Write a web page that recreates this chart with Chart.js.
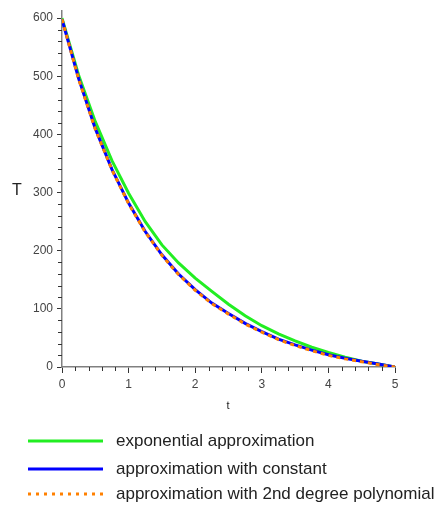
<!DOCTYPE html>
<html><head><meta charset="utf-8">
<script src="https://cdn.jsdelivr.net/npm/chart.js@4/dist/chart.umd.min.js"></script>
<style>
html,body{margin:0;padding:0;background:#fff;}
#wrap{position:relative;width:437px;height:505px;}
#c{position:absolute;left:0;top:0;}
.lg{position:absolute;left:0;font-family:"Liberation Sans",Arial,sans-serif;font-size:17px;color:#222;white-space:nowrap;}
.lg svg{position:absolute;left:28px;top:0;}
.lg span{position:absolute;left:116px;top:-1px;line-height:18px;}
</style></head>
<body><div id="wrap"><canvas id="c" width="437" height="505"></canvas>
<div id="legend"></div></div>
<script>
const tValues = [0,0.25,0.5,0.75,1,1.25,1.5,1.75,2,2.25,2.5,2.75,3,3.25,3.5,3.75,4,4.25,4.5,4.75,5];
const expApprox = [600,502,422,355,299,250,210,179,153,130,108,88,71,57,45,34,25,17,10,5,0];
const constApprox = [598,496,410,340,282,233,193,160,133,110,92,75,61,48,38,29,21,15,10,5,0];
const polyApprox = [598,495,409,339,281,232,192,159,132,109,91,74,60,47,37,28,20,14,9,4,0];
const yTicks = [0,100,200,300,400,500,600];
const xTicks = [0,1,2,3,4,5];
const seriesNames = ["exponential approximation","approximation with constant","approximation with 2nd degree polynomial"];
const seriesColors = ["#22ee22","#0000ff","#ff8000"];

const pts = arr => arr.map((v,i)=>({x:tValues[i], y:v}));

const minorTicks = {
  id:'minorTicks',
  afterDraw(chart){
    const ctx = chart.ctx, xs = chart.scales.x, ys = chart.scales.y;
    ctx.save();
    ctx.strokeStyle = '#333'; ctx.lineWidth = 1;
    for(let v=20; v<=600; v+=20){
      if(v%100===0) continue;
      const p = Math.round(ys.getPixelForValue(v))+0.5;
      ctx.beginPath(); ctx.moveTo(ys.right-4, p); ctx.lineTo(ys.right, p); ctx.stroke();
    }
    for(let k=1; k<25; k++){
      if(k%5===0) continue;
      const p = Math.round(xs.getPixelForValue(k*0.2))+0.5;
      ctx.beginPath(); ctx.moveTo(p, xs.top); ctx.lineTo(p, xs.top+4); ctx.stroke();
    }
    ctx.fillStyle = '#222';
    ctx.font = '16px "Liberation Sans", Arial, sans-serif';
    ctx.textAlign = 'center'; ctx.textBaseline = 'middle';
    ctx.fillText('T', 17, 191);
    ctx.font = '11px "Liberation Sans", Arial, sans-serif';
    ctx.fillText('t', 228, 406);
    ctx.restore();
  }
};

new Chart(document.getElementById('c'), {
  type:'line',
  data:{datasets:[
    {label:seriesNames[0], data:pts(expApprox), borderColor:seriesColors[0], borderWidth:3, pointRadius:0, tension:0, fill:false, order:2},
    {label:seriesNames[1], data:pts(constApprox), borderColor:seriesColors[1], borderWidth:3, pointRadius:0, tension:0, fill:false, order:1},
    {label:seriesNames[2], data:pts(polyApprox), borderColor:seriesColors[2], borderWidth:3, borderDash:[4,4], pointRadius:0, tension:0, fill:false, order:0}
  ]},
  options:{
    responsive:false, animation:false,
    layout:{padding:{left:0,right:42,top:7,bottom:0}},
    plugins:{legend:{display:false}, tooltip:{enabled:false}},
    scales:{
      x:{type:'linear', min:0, max:5,
        afterBuildTicks:s=>{s.ticks = xTicks.map(v=>({value:v}));},
        afterFit:s=>{s.height = 138;},
        grid:{drawOnChartArea:false, drawTicks:true, tickLength:6, tickColor:'#333'},
        border:{color:'#808080', width:1.5},
        ticks:{color:'#444', padding:4, font:{family:'"Liberation Sans", Arial, sans-serif', size:12}, maxRotation:0}
      },
      y:{type:'linear', min:0, max:612,
        afterBuildTicks:s=>{s.ticks = yTicks.map(v=>({value:v}));},
        afterFit:s=>{s.width = 62;},
        grid:{drawOnChartArea:false, drawTicks:true, tickLength:5, tickColor:'#333'},
        border:{color:'#808080', width:1.5},
        ticks:{color:'#444', padding:4, font:{family:'"Liberation Sans", Arial, sans-serif', size:12}}
      }
    }
  },
  plugins:[minorTicks]
});

const lg = document.getElementById('legend');
const rowY = [441,469,494];
seriesNames.forEach((n,i)=>{
  const d = document.createElement('div');
  d.className='lg'; d.style.top=(rowY[i]-8)+'px'; d.style.width='437px'; d.style.height='16px';
  const dash = i===2 ? ' stroke-dasharray="3,5"' : '';
  d.innerHTML = '<svg width="76" height="16"><line x1="0" y1="8" x2="75" y2="8" stroke="'+seriesColors[i]+'" stroke-width="3"'+dash+'/></svg><span></span>';
  d.querySelector('span').textContent = n;
  lg.appendChild(d);
});
</script></body></html>
